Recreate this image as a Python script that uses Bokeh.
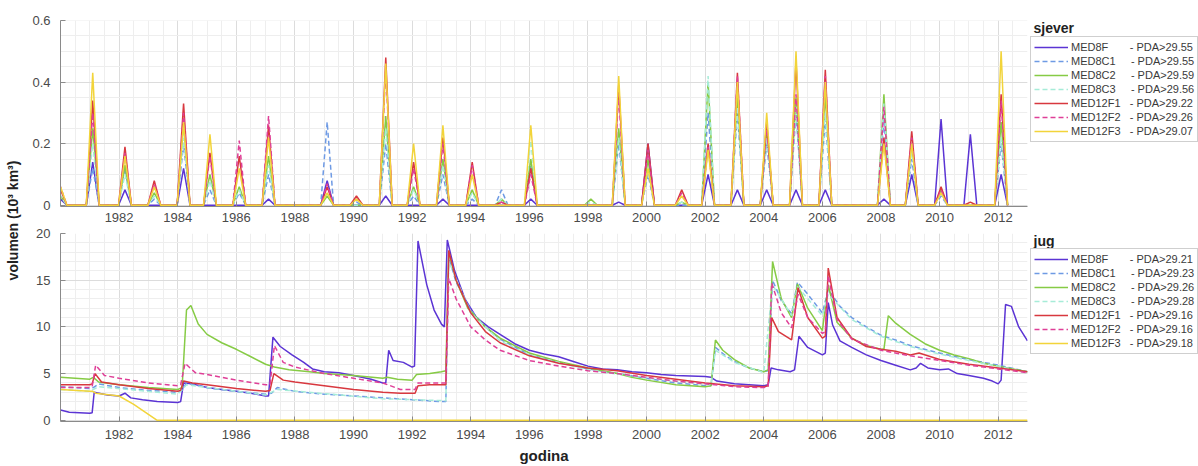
import math
from bokeh.plotting import figure
from bokeh.models import Range1d, FixedTicker, Legend, LegendItem
from bokeh.layouts import row, column
from bokeh.embed import file_html
from bokeh.resources import INLINE
from bokeh.core.properties import value

# ---------------- data ----------------
NAMES = ["MED8F", "MED8C1", "MED8C2", "MED8C3", "MED12F1", "MED12F2", "MED12F3"]
PDA_SJEVER = ["29.55", "29.55", "29.59", "29.56", "29.22", "29.26", "29.07"]
PDA_JUG = ["29.21", "29.23", "29.26", "29.28", "29.16", "29.16", "29.18"]

X_TICKS = [1982, 1984, 1986, 1988, 1990, 1992, 1994, 1996, 1998, 2000,
           2002, 2004, 2006, 2008, 2010, 2012]
SJ_Y_TICKS = [0, 0.2, 0.4, 0.6]
SJ_Y_LABELS = ["0", "0.2", "0.4", "0.6"]
JUG_Y_TICKS = [0, 5, 10, 15, 20]

# sjever: times of the runoff peaks (year) and peak volume of each run
EVENT_T = [1980.0, 1981.1, 1982.2, 1983.2, 1984.2, 1985.1, 1986.1, 1987.1,
           1989.1, 1990.1, 1991.1, 1992.05, 1993.05, 1994.05, 1995.05,
           1996.05, 1998.1, 1999.05, 2000.05, 2001.2, 2002.1, 2003.1,
           2004.1, 2005.1, 2006.1, 2008.1, 2009.05, 2010.05, 2011.05, 2012.1]
SJ_MED8F = [0.02, 0.14, 0.05, 0.00, 0.12, 0.00, 0.00, 0.02, 0.08, 0.00,
            0.03, 0.00, 0.02, 0.00, 0.00, 0.02, 0.00, 0.01, 0.20, 0.00,
            0.10, 0.05, 0.05, 0.05, 0.05, 0.02, 0.10, 0.28, 0.23, 0.10]
SJ_MED8C1 = [0.03, 0.12, 0.12, 0.02, 0.20, 0.05, 0.04, 0.10, 0.27, 0.01,
             0.20, 0.03, 0.10, 0.02, 0.05, 0.13, 0.00, 0.20, 0.10, 0.00,
             0.30, 0.30, 0.20, 0.30, 0.28, 0.28, 0.15, 0.03, 0.00, 0.20]
SJ_MED8C2 = [0.03, 0.25, 0.13, 0.04, 0.27, 0.10, 0.06, 0.16, 0.03, 0.00,
             0.29, 0.06, 0.15, 0.05, 0.02, 0.15, 0.02, 0.25, 0.15, 0.01,
             0.40, 0.35, 0.25, 0.35, 0.36, 0.36, 0.20, 0.05, 0.00, 0.27]
SJ_MED8C3 = [0.03, 0.20, 0.10, 0.03, 0.22, 0.08, 0.05, 0.13, 0.04, 0.00,
             0.25, 0.05, 0.13, 0.04, 0.02, 0.21, 0.01, 0.22, 0.12, 0.01,
             0.42, 0.32, 0.22, 0.32, 0.30, 0.33, 0.18, 0.04, 0.00, 0.22]
SJ_MED12F1 = [0.05, 0.34, 0.19, 0.08, 0.33, 0.17, 0.16, 0.26, 0.06, 0.03,
              0.48, 0.14, 0.22, 0.14, 0.01, 0.12, 0.00, 0.39, 0.20, 0.05,
              0.20, 0.43, 0.27, 0.47, 0.44, 0.22, 0.24, 0.06, 0.01, 0.36]
SJ_MED12F2 = [0.06, 0.30, 0.17, 0.07, 0.30, 0.16, 0.21, 0.29, 0.07, 0.02,
              0.44, 0.12, 0.20, 0.13, 0.01, 0.10, 0.00, 0.36, 0.18, 0.04,
              0.19, 0.42, 0.26, 0.36, 0.42, 0.32, 0.22, 0.05, 0.00, 0.34]
SJ_MED12F3 = [0.06, 0.43, 0.16, 0.06, 0.27, 0.23, 0.12, 0.22, 0.04, 0.02,
              0.46, 0.20, 0.26, 0.10, 0.00, 0.26, 0.00, 0.42, 0.12, 0.03,
              0.18, 0.40, 0.30, 0.50, 0.40, 0.20, 0.20, 0.04, 0.00, 0.50]

# jug: (year, volume)
JUG_MED8F = [(1980.0, 1.1), (1980.3, 0.85), (1981.0, 0.75), (1981.08, 0.8), (1981.15, 3.0),
             (1981.6, 2.7), (1982.0, 2.6), (1982.2, 2.9), (1982.4, 2.4), (1982.8, 2.2),
             (1983.3, 2.0), (1984.0, 1.9), (1984.1, 2.0), (1984.2, 4.0), (1984.5, 3.9),
             (1985.0, 3.5), (1985.5, 3.3), (1986.0, 3.1), (1986.5, 2.9), (1987.0, 2.6),
             (1987.1, 2.6), (1987.25, 8.9), (1987.5, 7.9), (1987.9, 7.0), (1988.3, 6.2),
             (1988.6, 5.5), (1989.0, 5.2), (1989.5, 5.1), (1990.0, 4.8), (1990.6, 4.4),
             (1991.0, 4.0), (1991.1, 4.0), (1991.2, 7.5), (1991.35, 6.4), (1991.7, 6.2),
             (1992.0, 5.7), (1992.08, 5.8), (1992.2, 19.2), (1992.5, 14.5), (1992.75, 11.8),
             (1993.0, 10.3), (1993.1, 10.0), (1993.2, 19.3), (1993.45, 16.0), (1993.8, 13.0),
             (1994.2, 11.0), (1994.6, 10.0), (1995.0, 9.2), (1995.5, 8.2), (1996.0, 7.5),
             (1996.5, 7.1), (1997.0, 6.8), (1997.5, 6.3), (1998.0, 5.8), (1998.5, 5.5),
             (1999.0, 5.4), (1999.5, 5.2), (2000.0, 5.1), (2000.5, 4.9), (2001.0, 4.8),
             (2002.0, 4.7), (2002.2, 4.6), (2002.4, 4.2), (2003.0, 3.9), (2003.5, 3.8),
             (2004.0, 3.7), (2004.15, 3.8), (2004.25, 5.6), (2004.5, 5.4), (2004.9, 5.2),
             (2005.05, 5.4), (2005.2, 9.0), (2005.5, 7.8), (2006.0, 7.0), (2006.1, 7.2),
             (2006.2, 12.6), (2006.35, 10.2), (2006.6, 8.5), (2007.0, 7.8), (2007.5, 7.0),
             (2008.0, 6.4), (2008.5, 5.9), (2009.0, 5.4), (2009.2, 5.6), (2009.35, 6.1),
             (2009.6, 5.6), (2010.0, 5.4), (2010.3, 5.5), (2010.6, 5.0), (2011.0, 4.8),
             (2011.5, 4.5), (2011.8, 4.2), (2012.0, 3.9), (2012.1, 4.3), (2012.25, 12.4),
             (2012.45, 12.2), (2012.7, 10.0), (2013.0, 8.5)]
JUG_MED8C1 = [(1980.0, 3.6), (1981.0, 3.4), (1981.12, 3.5), (1981.3, 3.9), (1982.0, 3.5),
              (1983.0, 3.2), (1984.0, 3.0), (1984.15, 3.2), (1984.3, 4.0), (1985.0, 3.5),
              (1986.0, 3.1), (1987.0, 2.8), (1987.2, 2.9), (1987.4, 3.5), (1988.0, 3.1),
              (1989.0, 2.8), (1990.0, 2.6), (1991.0, 2.4), (1992.0, 2.2), (1993.0, 2.0),
              (1993.15, 2.0), (1993.25, 17.5), (1993.5, 14.8), (1994.0, 11.8), (1994.5, 10.0),
              (1995.0, 8.7), (1996.0, 7.0), (1997.0, 6.2), (1998.0, 5.5), (1999.0, 5.0),
              (2000.0, 4.5), (2001.0, 4.0), (2002.0, 3.7), (2002.2, 3.7), (2002.35, 7.8),
              (2002.7, 6.9), (2003.0, 6.3), (2003.5, 5.6), (2004.0, 5.2), (2004.15, 5.3),
              (2004.3, 15.0), (2004.6, 12.8), (2004.95, 11.4), (2005.15, 14.8), (2005.5, 13.5),
              (2006.0, 11.5), (2006.2, 14.0), (2006.6, 12.2), (2007.0, 11.0), (2007.5, 10.0),
              (2008.0, 9.1), (2008.5, 8.6), (2009.0, 8.0), (2010.0, 7.2), (2011.0, 6.5),
              (2012.0, 5.9), (2013.0, 5.2)]
JUG_MED8C2 = [(1980.0, 4.6), (1981.0, 4.4), (1981.12, 4.6), (1981.3, 4.1), (1982.0, 3.8),
              (1983.0, 3.5), (1984.0, 3.3), (1984.15, 3.5), (1984.3, 11.8), (1984.45, 12.3),
              (1984.7, 10.3), (1985.0, 9.2), (1985.5, 8.3), (1986.0, 7.6), (1986.5, 6.8),
              (1987.0, 6.0), (1987.3, 5.7), (1987.8, 5.4), (1988.5, 5.2), (1989.0, 5.0),
              (1990.0, 4.8), (1991.0, 4.5), (1991.15, 4.6), (1991.5, 4.4), (1992.0, 4.3),
              (1992.15, 4.9), (1992.6, 5.0), (1993.0, 5.2), (1993.15, 5.3), (1993.25, 18.0),
              (1993.5, 15.0), (1993.9, 12.0), (1994.5, 10.0), (1995.0, 8.8), (1995.5, 8.0),
              (1996.0, 7.2), (1997.0, 6.3), (1998.0, 5.6), (1999.0, 5.0), (1999.5, 4.6),
              (2000.0, 4.3), (2001.0, 3.8), (2002.0, 3.6), (2002.2, 3.7), (2002.35, 8.6),
              (2002.6, 7.5), (2003.0, 6.5), (2003.5, 5.6), (2004.0, 5.2), (2004.15, 5.4),
              (2004.3, 17.0), (2004.6, 13.0), (2004.95, 11.0), (2005.15, 14.6), (2005.5, 12.0),
              (2006.0, 9.6), (2006.2, 14.5), (2006.5, 10.5), (2007.0, 8.8), (2007.5, 8.0),
              (2008.0, 7.6), (2008.1, 7.6), (2008.25, 11.2), (2008.5, 10.4), (2009.0, 9.2),
              (2009.5, 8.2), (2010.0, 7.5), (2010.5, 7.0), (2011.0, 6.6), (2011.5, 6.1),
              (2012.0, 5.8), (2012.5, 5.5), (2013.0, 5.2)]
JUG_MED8C3 = [(1980.0, 3.3), (1981.0, 3.1), (1981.3, 3.6), (1984.0, 2.8), (1984.3, 3.8),
              (1987.0, 2.7), (1987.4, 3.3), (1991.0, 2.3), (1993.15, 2.1), (1993.25, 17.0),
              (1994.0, 11.5), (1995.0, 8.5), (1996.0, 7.0), (1998.0, 5.4), (2000.0, 4.5),
              (2002.2, 3.8), (2002.35, 7.5), (2003.0, 6.2), (2004.0, 5.1), (2004.3, 14.5),
              (2004.95, 11.2), (2005.15, 14.3), (2006.0, 11.2), (2006.2, 13.5), (2007.0, 10.8),
              (2008.0, 9.0), (2009.0, 7.9), (2010.0, 7.1), (2011.0, 6.4), (2012.0, 5.8),
              (2013.0, 5.1)]
JUG_MED12F1 = [(1980.0, 3.8), (1981.0, 3.8), (1981.08, 3.9), (1981.18, 5.0), (1981.4, 4.1),
               (1982.0, 3.8), (1983.0, 3.4), (1984.0, 3.1), (1984.1, 3.2), (1984.2, 4.2),
               (1984.5, 4.0), (1985.0, 3.8), (1986.0, 3.4), (1987.0, 3.1), (1987.15, 3.2),
               (1987.28, 5.0), (1987.6, 4.3), (1988.0, 4.1), (1989.0, 3.7), (1990.0, 3.3),
               (1991.0, 3.0), (1991.6, 2.9), (1992.1, 2.9), (1992.2, 3.7), (1992.6, 3.8),
               (1993.0, 3.8), (1993.15, 3.8), (1993.25, 18.2), (1993.5, 15.0), (1994.0, 11.5),
               (1994.5, 9.5), (1995.0, 8.3), (1996.0, 6.9), (1997.0, 6.1), (1998.0, 5.6),
               (1999.0, 5.3), (2000.0, 4.8), (2001.0, 4.4), (2002.0, 4.0), (2003.0, 3.7),
               (2004.0, 3.6), (2004.15, 3.7), (2004.27, 11.0), (2004.5, 9.5), (2004.95, 8.6),
               (2005.17, 14.2), (2005.5, 11.0), (2006.0, 8.8), (2006.1, 9.0), (2006.2, 16.3),
               (2006.5, 11.0), (2007.0, 8.8), (2007.5, 7.9), (2008.0, 7.6), (2008.5, 7.4),
               (2009.0, 7.0), (2009.3, 7.2), (2010.0, 6.5), (2011.0, 6.0), (2012.0, 5.6),
               (2013.0, 5.2)]
JUG_MED12F2 = [(1980.0, 3.5), (1981.0, 3.5), (1981.08, 3.6), (1981.2, 5.9), (1981.5, 4.8),
               (1982.0, 4.5), (1983.0, 4.0), (1984.0, 3.7), (1984.1, 3.8), (1984.25, 6.1),
               (1984.6, 5.1), (1985.0, 4.9), (1986.0, 4.3), (1987.0, 3.8), (1987.15, 3.8),
               (1987.3, 8.0), (1987.6, 6.2), (1988.0, 5.7), (1989.0, 5.0), (1990.0, 4.5),
               (1991.0, 4.0), (1991.6, 3.3), (1992.1, 3.3), (1992.2, 4.0), (1993.0, 4.0),
               (1993.15, 4.0), (1993.25, 15.2), (1993.5, 13.0), (1994.0, 10.0), (1994.5, 8.6),
               (1995.0, 7.5), (1996.0, 6.4), (1997.0, 5.8), (1998.0, 5.3), (1999.0, 5.0),
               (2000.0, 4.6), (2001.0, 4.2), (2002.0, 3.9), (2003.0, 3.6), (2004.0, 3.5),
               (2004.15, 3.6), (2004.27, 14.7), (2004.6, 11.5), (2004.95, 9.9), (2005.17, 13.5),
               (2005.5, 11.0), (2006.0, 9.3), (2006.1, 9.5), (2006.2, 15.5), (2006.5, 10.8),
               (2007.0, 8.7), (2008.0, 7.5), (2009.0, 6.9), (2010.0, 6.4), (2011.0, 5.9),
               (2012.0, 5.5), (2013.0, 5.1)]
JUG_MED12F3 = [(1980.0, 3.3), (1981.0, 3.1), (1981.1, 3.1), (1981.2, 2.9), (1982.0, 2.6),
               (1982.5, 1.7), (1983.3, 0.0), (2013.0, 0.0)]

# ---------------- styles ----------------
COLORS = ["#5b34d4", "#6e9ae4", "#86cb45", "#a6ecd8", "#d8383f", "#df3f97", "#f2d43a"]
DASHES = ["solid", "5 3", "solid", "5 3", "solid", "5 3", "solid"]
PAD = {"MED8F": 7, "MED8C1": 5, "MED8C2": 5, "MED8C3": 5,
       "MED12F1": 3, "MED12F2": 3, "MED12F3": 3}
FONT = "Liberation Sans"
HW = 0.22  # half base width of a runoff peak (years)

X0, X1 = 1980, 2013
W_LAB = 22
W_MAIN = 1007
W_LEG = 169
H_TOP = 224
H_BOT = 242
MB_L = 38


def peak_xy(heights):
    xs, ys = [], []
    for t, h in zip(EVENT_T, heights):
        xs += [t - HW, t, t + HW]
        ys += [0.0, h, 0.0]
    return xs, ys


def style(p, yticks, yminor, ylabels=None):
    p.outline_line_color = None
    p.background_fill_color = "white"
    p.xaxis.ticker = FixedTicker(ticks=X_TICKS,
                                 minor_ticks=[X0 + 0.5 * i for i in range(int((X1 - X0) * 2) + 1)])
    p.yaxis.ticker = FixedTicker(ticks=yticks, minor_ticks=yminor)
    if ylabels:
        p.yaxis.major_label_overrides = {t: l for t, l in zip(yticks, ylabels)}
    for ax in p.xaxis + p.yaxis:
        ax.axis_line_color = "#8a8a8a"
        ax.major_tick_line_color = "#8a8a8a"
        ax.major_tick_in = 5
        ax.major_tick_out = 0
        ax.minor_tick_line_color = None
        ax.major_label_text_font = FONT
        ax.major_label_text_font_size = "13px"
        ax.major_label_text_color = "#4a4a4a"
        ax.major_label_standoff = 6
    p.xaxis.major_label_standoff = 4
    p.xgrid.grid_line_color = "#dcdcdc"
    p.ygrid.grid_line_color = "#dcdcdc"
    p.xgrid.minor_grid_line_color = "#eeeeee"
    p.ygrid.minor_grid_line_color = "#eeeeee"


def legend_fig(height, title, pdas, series_list, title_from_top, box_bottom_from_bottom):
    f = figure(width=W_LEG, height=height, x_range=Range1d(0, W_LEG), y_range=Range1d(0, height),
               output_backend="svg", toolbar_location=None, min_border=0,
               x_axis_location=None, y_axis_location=None)
    f.outline_line_color = None
    f.xgrid.visible = False
    f.ygrid.visible = False
    f.text(x=[4], y=[height - title_from_top], text=[title], text_font=value(FONT),
           text_font_size="14px", text_font_style="bold", text_color="#222222",
           text_baseline="middle", text_align="left")
    items = []
    for name, pda, (xs, ys), c, d in zip(NAMES, pdas, series_list, COLORS, DASHES):
        # proxy renderer: the series' own data lies far outside this small frame
        proxy = f.line(x=xs, y=ys, line_color=c, line_width=1.6, line_dash=d)
        lab = name + "\u00a0" * PAD[name] + "- PDA>" + pda
        items.append(LegendItem(label=lab, renderers=[proxy]))
    leg = Legend(items=items, location=(1, box_bottom_from_bottom))
    leg.label_text_font = FONT
    leg.label_text_font_size = "11px"
    leg.label_text_color = "#3a3a3a"
    leg.glyph_width = 34
    leg.glyph_height = 14
    leg.label_height = 14
    leg.spacing = 0
    leg.padding = 3
    leg.margin = 0
    leg.label_standoff = 3
    leg.border_line_color = "#a0a0a0"
    leg.border_line_width = 1
    leg.background_fill_color = "white"
    leg.background_fill_alpha = 1
    f.add_layout(leg, "center")
    return f


# ---------------- top: sjever ----------------
p1 = figure(width=W_MAIN, height=H_TOP, x_range=Range1d(X0, X1), y_range=Range1d(-0.004, 0.6),
            output_backend="svg", toolbar_location=None,
            min_border_left=MB_L, min_border_right=2, min_border_top=20, min_border_bottom=16)
style(p1, SJ_Y_TICKS, [0.05 * i for i in range(13)], SJ_Y_LABELS)
p1.xaxis.major_label_standoff = 2
top_series = []
for series, c, d in zip([SJ_MED8F, SJ_MED8C1, SJ_MED8C2, SJ_MED8C3,
                         SJ_MED12F1, SJ_MED12F2, SJ_MED12F3], COLORS, DASHES):
    xs, ys = peak_xy(series)
    top_series.append((xs, ys))
    p1.line(xs, ys, line_color=c, line_width=1.5, line_dash=d)

# ---------------- bottom: jug ----------------
p2 = figure(width=W_MAIN, height=H_BOT, x_range=Range1d(X0, X1), y_range=Range1d(-0.13, 20),
            output_backend="svg", toolbar_location=None,
            min_border_left=MB_L, min_border_right=2, min_border_top=9, min_border_bottom=45)
style(p2, JUG_Y_TICKS, list(range(21)))
p2.xaxis.axis_label = "godina"
p2.xaxis.axis_label_text_font = FONT
p2.xaxis.axis_label_text_font_size = "15px"
p2.xaxis.axis_label_text_font_style = "bold"
p2.xaxis.axis_label_text_color = "#222222"
p2.xaxis.axis_label_standoff = 5
bot_series = []
for series, c, d in zip([JUG_MED8F, JUG_MED8C1, JUG_MED8C2, JUG_MED8C3,
                         JUG_MED12F1, JUG_MED12F2, JUG_MED12F3], COLORS, DASHES):
    xs = [t for t, v in series]
    ys = [v for t, v in series]
    bot_series.append((xs, ys))
    p2.line(xs, ys, line_color=c, line_width=1.5, line_dash=d)

# ---------------- legends ----------------
L1 = legend_fig(H_TOP, "sjever", PDA_SJEVER, top_series, 27, H_TOP - 142)
L2 = legend_fig(H_BOT, "jug", PDA_JUG, bot_series, 240 - H_TOP, H_TOP + H_BOT - 354)

# ---------------- shared y label ----------------
H_ALL = H_TOP + H_BOT
p0 = figure(width=W_LAB, height=H_ALL, x_range=Range1d(0, W_LAB), y_range=Range1d(0, H_ALL),
            output_backend="svg", toolbar_location=None, min_border=0,
            x_axis_location=None, y_axis_location=None)
p0.outline_line_color = None
p0.xgrid.visible = False
p0.ygrid.visible = False
p0.text(x=[12], y=[H_ALL - 220], text=["volumen (10\u00b3 km\u00b3)"], angle=math.pi / 2,
        text_align="center", text_baseline="middle", text_font=value(FONT),
        text_font_size="14px", text_font_style="bold", text_color="#222222")

layout = row(p0, column(p1, p2, spacing=0), column(L1, L2, spacing=0), spacing=0)
open("out.html", "w").write(file_html(layout, INLINE))
